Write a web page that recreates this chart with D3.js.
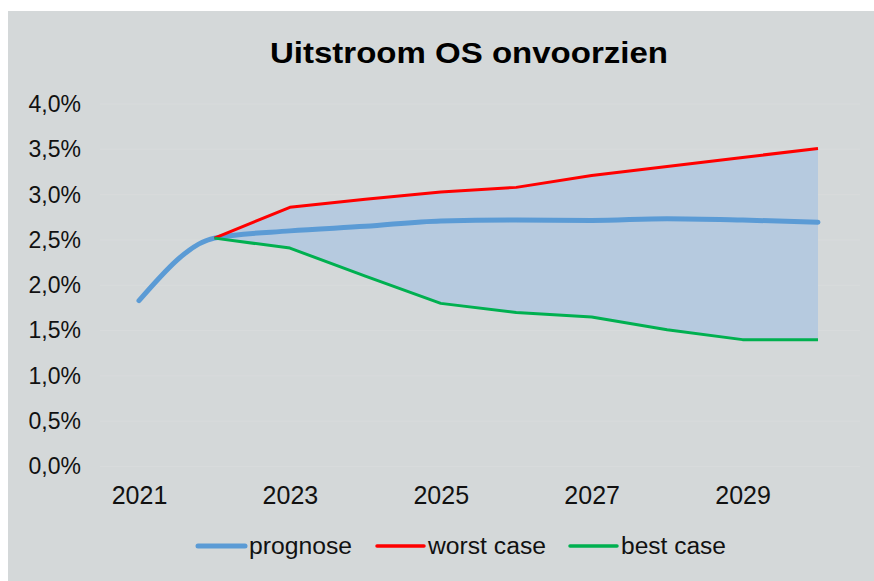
<!DOCTYPE html>
<html>
<head>
<meta charset="utf-8">
<script src="https://cdn.jsdelivr.net/npm/d3@7"></script>
<style>
  body { margin: 0; background: #ffffff; }
  svg { display: block; font-family: 'Liberation Sans', Arial, sans-serif; }
</style>
</head>
<body>
<svg width="874" height="581"></svg>
<script>
// data (percentages)
const years = [2021, 2022, 2023, 2024, 2025, 2026, 2027, 2028, 2029, 2030];
const prognose = [1.83, 2.52, 2.60, 2.65, 2.71, 2.72, 2.715, 2.735, 2.72, 2.695];
const bandYears = [2022, 2023, 2024, 2025, 2026, 2027, 2028, 2029, 2030];
const worstCase = [2.52, 2.86, 2.95, 3.03, 3.08, 3.21, 3.31, 3.41, 3.51];
const bestCase = [2.52, 2.41, 2.10, 1.80, 1.70, 1.65, 1.51, 1.40, 1.40];
const yTicks = [0, 0.5, 1, 1.5, 2, 2.5, 3, 3.5, 4];
const xTicks = [2021, 2023, 2025, 2027, 2029];
const legendItems = [
    { name: 'prognose', color: '#5b9bd5', w: 5, x: 196, len: 103 },
    { name: 'worst case', color: '#ff0000', w: 3.5, x: 375, len: 118 },
    { name: 'best case', color: '#00b050', w: 3.5, x: 568, len: 105 }
];

const svg = d3.select('svg');

// grey panel
svg.append('rect')
    .attr('x', 8).attr('y', 11)
    .attr('width', 866).attr('height', 570)
    .attr('fill', '#d4d8d9');

const xScale = d3.scaleLinear()
    .domain([2021, 2030])
    .range([139, 818]);

const yScale = d3.scaleLinear()
    .domain([0, 4])
    .range([466.5, 104]);

// faint gridlines
svg.append('g')
    .selectAll('line')
    .data(yTicks)
    .enter().append('line')
    .attr('x1', 100).attr('x2', 860)
    .attr('y1', d => yScale(d)).attr('y2', d => yScale(d))
    .attr('stroke', '#d8dbdc')
    .attr('stroke-width', 1);

// y axis
const yAxis = g => g
    .attr('transform', 'translate(81,0)')
    .call(d3.axisLeft(yScale).tickValues(yTicks).tickSize(0).tickPadding(0)
        .tickFormat(d => d.toFixed(1).replace('.', ',') + '%'))
    .call(g => g.select('.domain').remove())
    .call(g => g.selectAll('text')
        .attr('font-size', 23)
        .attr('fill', '#111')
        .attr('font-family', "'Liberation Sans', Arial, sans-serif"));

svg.append('g').call(yAxis);

// x axis
const xAxis = g => g
    .attr('transform', 'translate(0,486)')
    .call(d3.axisBottom(xScale).tickValues(xTicks).tickSize(0).tickPadding(0)
        .tickFormat(d3.format('d')))
    .call(g => g.select('.domain').remove())
    .call(g => g.selectAll('text')
        .attr('font-size', 25)
        .attr('fill', '#111')
        .attr('font-family', "'Liberation Sans', Arial, sans-serif"));

svg.append('g').call(xAxis);

// band between best and worst case
const bandData = bandYears.map((yr, i) => ({ yr, hi: worstCase[i], lo: bestCase[i] }));

const area = d3.area()
    .x(d => xScale(d.yr))
    .y0(d => yScale(d.lo))
    .y1(d => yScale(d.hi));

svg.append('path')
    .datum(bandData)
    .attr('d', area)
    .attr('fill', '#b6cadf');

// prognose is smoothed, the scenario lines are straight segments
const smoothLine = d3.line()
    .x(d => xScale(d[0]))
    .y(d => yScale(d[1]))
    .curve(d3.curveMonotoneX);

const line = d3.line()
    .x(d => xScale(d[0]))
    .y(d => yScale(d[1]));

svg.append('path')
    .datum(years.map((yr, i) => [yr, prognose[i]]))
    .attr('d', smoothLine)
    .attr('fill', 'none')
    .attr('stroke', '#5b9bd5')
    .attr('stroke-width', 5)
    .attr('stroke-linecap', 'round')
    .attr('stroke-linejoin', 'round');

svg.append('path')
    .datum(bandYears.map((yr, i) => [yr, worstCase[i]]))
    .attr('d', line)
    .attr('fill', 'none')
    .attr('stroke', '#ff0000')
    .attr('stroke-width', 3)
    .attr('stroke-linejoin', 'round');

svg.append('path')
    .datum(bandYears.map((yr, i) => [yr, bestCase[i]]))
    .attr('d', line)
    .attr('fill', 'none')
    .attr('stroke', '#00b050')
    .attr('stroke-width', 3)
    .attr('stroke-linejoin', 'round');

// title
svg.append('text')
    .attr('x', 469).attr('y', 63)
    .attr('text-anchor', 'middle')
    .attr('font-size', 30)
    .attr('font-weight', 'bold')
    .attr('fill', '#000')
    .attr('textLength', 398)
    .attr('lengthAdjust', 'spacingAndGlyphs')
    .text('Uitstroom OS onvoorzien');

// legend
const legend = svg.append('g')
    .selectAll('g')
    .data(legendItems)
    .enter().append('g')
    .attr('transform', d => `translate(${d.x},546)`);

legend.append('line')
    .attr('x1', 2).attr('x2', 49)
    .attr('stroke', d => d.color)
    .attr('stroke-width', d => d.w)
    .attr('stroke-linecap', 'round');

legend.append('text')
    .attr('x', 53).attr('y', 8)
    .attr('font-size', 23)
    .attr('fill', '#111')
    .attr('textLength', d => d.len)
    .attr('lengthAdjust', 'spacingAndGlyphs')
    .text(d => d.name);
</script>
</body>
</html>
